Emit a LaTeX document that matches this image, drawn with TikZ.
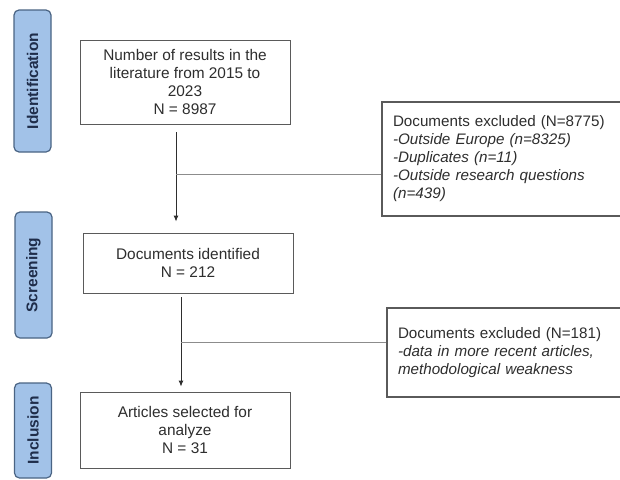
\documentclass[tikz,border=0pt]{standalone}
\usepackage{fontspec}
\setmainfont{Liberation Sans}
\usetikzlibrary{calc,arrows.meta}
\definecolor{stagefill}{HTML}{A2C2E8}
\definecolor{stageborder}{HTML}{4A6484}
\definecolor{stagetext}{HTML}{1F2D4A}
\definecolor{boxborder}{HTML}{5A5A5A}
\definecolor{textgray}{HTML}{2E2E2E}
\definecolor{branchgray}{HTML}{8C8C8C}

\begin{document}
\begin{tikzpicture}[x=1pt,y=-1pt,
  stage/.style={draw=stageborder,fill=stagefill,rounded corners=5pt,line width=1.2pt,
    text=stagetext,font=\fontsize{15.5}{17}\selectfont\bfseries,rotate=90,
    minimum height=37pt,inner sep=0pt},
  box/.style={draw=boxborder,fill=white,line width=0.9pt,align=center,
    font=\fontsize{15.4}{18}\selectfont,text=textgray,inner sep=0pt,minimum width=210pt},
  excl/.style={draw=boxborder,fill=white,line width=1.2pt,align=left,
    font=\fontsize{15.2}{18}\selectfont,text=textgray,inner xsep=11pt,inner ysep=0pt},
  flow/.style={draw=textgray,line width=0.9pt,-{Latex[length=6pt,width=5pt]}},
  branch/.style={draw=branchgray,line width=1.4pt}]
\useasboundingbox (0,0) rectangle (620,479);
\clip (0,0) rectangle (620,479);
\fill[white] (0,0) rectangle (620,479);
% stages
\node[stage,minimum width=142pt] (ident) at (32.5,81) {Identification};
\node[stage,minimum width=126pt] (screen) at (33.5,275) {Screening};
\node[stage,minimum width=95pt] (incl) at (33,430.5) {Inclusion};
% main boxes
\node[box,minimum height=84pt] (nres) at (185,82) {Number of results in the\\literature from 2015 to\\2023\\N = 8987};
\node[box,minimum height=60pt] (docid) at (188,263) {Documents identified\\N = 212};
\node[box,minimum height=76pt] (artsel) at (185,430) {Articles selected for\\analyze\\N = 31};
% excluded
\node[excl,text width=221pt,minimum height=114pt] (excla) at (503.5,159) {Documents excluded (N=8775)\\
  \textit{-Outside Europe (n=8325)}\\
  \textit{-Duplicates (n=11)}\\
  \textit{-Outside research questions}\\
  \textit{(n=439)}};
\node[excl,text width=216pt,minimum height=89pt] (exclb) at (506,352.5) {Documents excluded (N=181)\\
  \textit{-data in more recent articles,}\\
  \textit{methodological weakness}};
% arrows
\draw[flow,shorten <=8pt,shorten >=11pt] ([xshift=-9pt]nres.south) -- ([xshift=-9pt]nres.south |- docid.north);
\path ([xshift=-9pt,yshift=-50pt]nres.south) coordinate (b1);
\draw[branch] (b1) -- (b1 -| excla.west);
\draw[flow,shorten <=4pt,shorten >=5pt] ([xshift=-7pt]docid.south) -- ([xshift=-7pt]docid.south |- artsel.north);
\path ([xshift=-7pt,yshift=-49pt]docid.south) coordinate (b2);
\draw[branch] (b2) -- (b2 -| exclb.west);
\end{tikzpicture}
\end{document}
